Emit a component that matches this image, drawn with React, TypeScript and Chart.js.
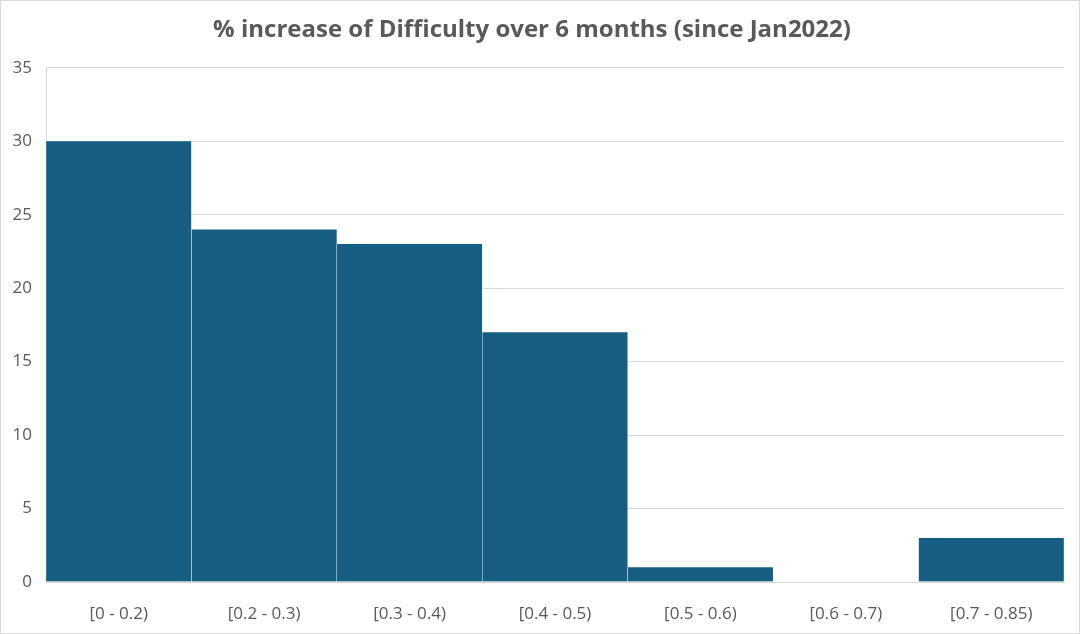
import React, { useEffect, useRef } from "react";
import { Chart, registerables } from "chart.js";

Chart.register(...registerables);

const categories = ["[0 - 0.2)", "[0.2 - 0.3)", "[0.3 - 0.4)", "[0.4 - 0.5)", "[0.5 - 0.6)", "[0.6 - 0.7)", "[0.7 - 0.85)"];
const counts = [30, 24, 23, 17, 1, 0, 3];
const titleText = "% increase of Difficulty over 6 months (since Jan2022)";

export default function App() {
  const ref = useRef<HTMLCanvasElement | null>(null);
  useEffect(() => {
    document.body.style.margin = "0";
    const chart = new Chart(ref.current as HTMLCanvasElement, {
      type: "bar",
      data: {
        labels: categories,
        datasets: [
          {
            data: counts,
            backgroundColor: "#175F82",
            borderColor: "#ffffff",
            borderWidth: { left: 0.5, right: 0.5, top: 0, bottom: 0 },
            borderSkipped: false,
            categoryPercentage: 1,
            barPercentage: 1,
          },
        ],
      },
      options: {
        animation: false,
        responsive: false,
        maintainAspectRatio: false,
        layout: { padding: { left: 0, right: 16, top: 0, bottom: 0 } },
        plugins: {
          legend: { display: false },
          tooltip: { enabled: false },
          title: {
            display: true,
            text: titleText,
            color: "#595959",
            font: { family: "'Open Sans', 'Noto Sans', sans-serif", size: 24, weight: "bold" },
            padding: { top: 16, bottom: 23 },
          },
        },
        scales: {
          x: {
            grid: { display: false },
            border: { display: true, color: "#d9d9d9" },
            ticks: {
              color: "#595959",
              font: { family: "'Open Sans', 'Noto Sans', sans-serif", size: 17 },
              padding: 14,
              maxRotation: 0,
            },
            afterFit: (s: any) => {
              s.height = 52;
            },
          },
          y: {
            min: 0,
            max: 35,
            ticks: {
              stepSize: 5,
              color: "#595959",
              font: { family: "'Open Sans', 'Noto Sans', sans-serif", size: 17 },
              padding: 14,
            },
            grid: { color: "#d9d9d9", drawTicks: false },
            border: { display: true, color: "#d9d9d9" },
            afterFit: (s: any) => {
              s.width = 46;
            },
          },
        },
      },
    });
    return () => chart.destroy();
  }, []);
  return (
    <div style={{ position: "absolute", left: 0, top: 0, width: 1080, height: 634, background: "#fff" }}>
      <canvas ref={ref} width={1080} height={634} style={{ display: "block" }} />
      <div
        style={{
          position: "absolute",
          left: 0,
          top: 0,
          width: 1080,
          height: 634,
          border: "1px solid #d9d9d9",
          boxSizing: "border-box",
          pointerEvents: "none",
        }}
      />
    </div>
  );
}
